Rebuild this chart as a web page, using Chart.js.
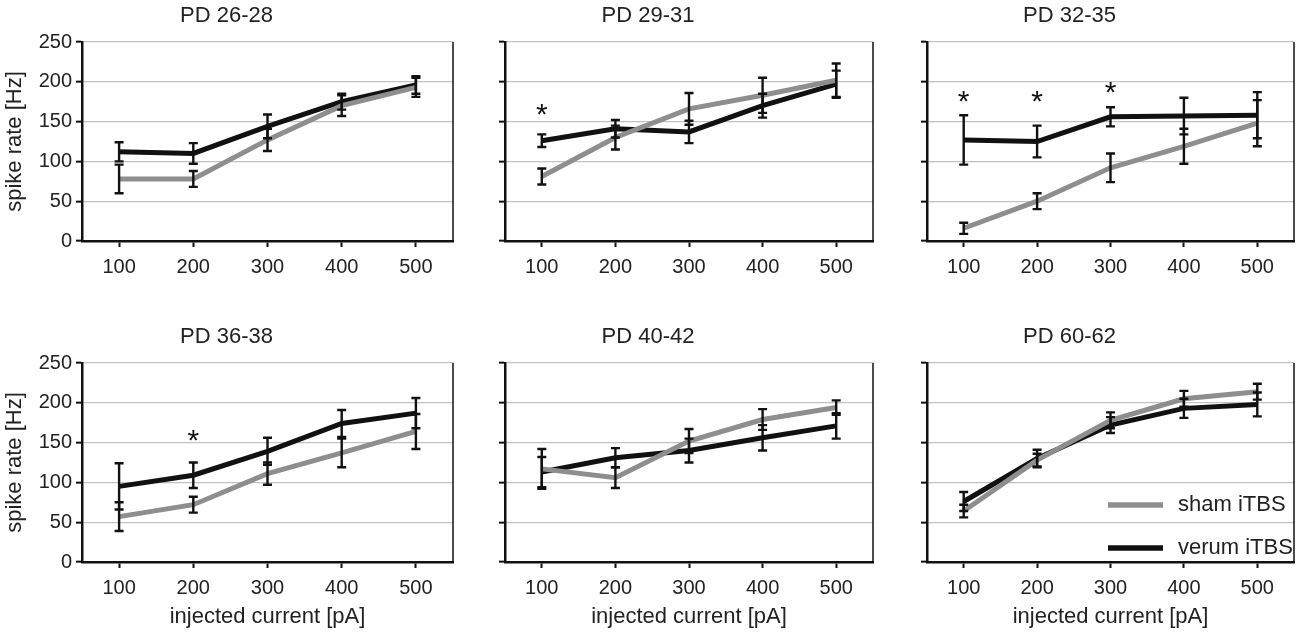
<!DOCTYPE html>
<html>
<head>
    <meta charset="utf-8">
    <title>Spike rate vs injected current</title>
    <script src="https://cdn.jsdelivr.net/npm/chart.js"></script>
    <style>
        body { margin: 0; background: #fff; }
        #wrap { position: relative; width: 1300px; height: 633px; background: #fff; }
        #wrap canvas { position: absolute; }
    </style>
</head>
<body>
    <div id="wrap"></div>
    <script>
        // injected current [pA]
        const currents = ['100', '200', '300', '400', '500'];
        const panelTitles = ['PD 26-28', 'PD 29-31', 'PD 32-35', 'PD 36-38', 'PD 40-42', 'PD 60-62'];
        const seriesNames = ['sham iTBS', 'verum iTBS'];

        // mean spike rate [Hz] per panel
        const shamMeans = [
            [78, 78, 127, 170, 193],
            [81, 130, 166, 183, 202],
            [16, 50, 92, 119, 148],
            [57, 72, 111, 137, 164],
            [117, 106, 152, 179, 194],
            [64, 128, 178, 205, 214]
        ];
        const shamErrors = [
            [18, 10, 14, 13, 12],
            [10, 15, 20, 22, 21],
            [7, 10, 18, 22, 29],
            [18, 10, 14, 18, 22],
            [25, 13, 15, 13, 9],
            [8, 8, 10, 10, 10]
        ];
        const verumMeans = [
            [112, 110, 144, 175, 196],
            [126, 141, 137, 170, 197],
            [127, 125, 156, 157, 158],
            [95, 109, 139, 174, 187],
            [113, 131, 140, 156, 171],
            [76, 130, 172, 193, 198]
        ];
        const verumErrors = [
            [12, 13, 15, 10, 11],
            [8, 11, 14, 15, 17],
            [31, 20, 12, 23, 29],
            [29, 16, 17, 17, 19],
            [19, 12, 15, 16, 16],
            [12, 11, 10, 12, 15]
        ];
        // significance marks: [category index, y value]
        const stars = [
            [],
            [[0, 164]],
            [[0, 180], [1, 180], [2, 191]],
            [[1, 157]],
            [],
            []
        ];

        Chart.defaults.font.family = '"Liberation Sans", Arial, sans-serif';
        Chart.defaults.color = '#222';

        const cols = [{ left: 0, width: 459 }, { left: 423, width: 456 }, { left: 845, width: 455 }];
        const rows = [{ top: 0, height: 300 }, { top: 321, height: 312 }];

        // error bars, stars, right frame, legend
        const extras = {
            id: 'extras',
            afterDatasetsDraw(chart, args, opts) {
                const ctx = chart.ctx;
                const y = chart.scales.y;
                const area = chart.chartArea;
                ctx.save();
                ctx.strokeStyle = '#111';
                ctx.lineWidth = 2.4;
                chart.data.datasets.forEach((ds, di) => {
                    const meta = chart.getDatasetMeta(di);
                    ds.data.forEach((v, i) => {
                        const x = meta.data[i].x;
                        const top = y.getPixelForValue(v + ds.errors[i]);
                        const bot = y.getPixelForValue(v - ds.errors[i]);
                        ctx.beginPath();
                        ctx.moveTo(x, top); ctx.lineTo(x, bot);
                        ctx.moveTo(x - 4.5, top); ctx.lineTo(x + 4.5, top);
                        ctx.moveTo(x - 4.5, bot); ctx.lineTo(x + 4.5, bot);
                        ctx.stroke();
                    });
                });
                // right frame line
                ctx.lineWidth = 1.5;
                ctx.beginPath();
                ctx.moveTo(area.right, area.top);
                ctx.lineTo(area.right, area.bottom);
                ctx.stroke();

                ctx.fillStyle = '#111';
                ctx.font = '30px "Liberation Sans", Arial, sans-serif';
                ctx.textAlign = 'center';
                ctx.textBaseline = 'middle';
                opts.stars.forEach(s => {
                    const sx = chart.scales.x.getPixelForValue(s[0]);
                    const sy = y.getPixelForValue(s[1]);
                    ctx.fillText('*', sx, sy + 5);
                });

                if (opts.legend) {
                    ctx.font = '22px "Liberation Sans", Arial, sans-serif';
                    ctx.textAlign = 'left';
                    [0, 1].forEach(k => {
                        const ds = chart.data.datasets[k];
                        const ly = area.bottom - (k === 0 ? 57 : 14);
                        ctx.strokeStyle = ds.borderColor;
                        ctx.lineWidth = 5.5;
                        ctx.beginPath();
                        ctx.moveTo(area.right - 186, ly);
                        ctx.lineTo(area.right - 131, ly);
                        ctx.stroke();
                        ctx.fillStyle = '#222';
                        ctx.fillText(ds.label, area.right - 116, ly);
                    });
                }
                ctx.restore();
            }
        };

        const wrap = document.getElementById('wrap');
        panelTitles.forEach((title, p) => {
            const r = Math.floor(p / 3), c = p % 3;
            const cv = document.createElement('canvas');
            cv.width = cols[c].width;
            cv.height = rows[r].height;
            cv.style.left = cols[c].left + 'px';
            cv.style.top = rows[r].top + 'px';
            wrap.appendChild(cv);

            new Chart(cv, {
                type: 'line',
                data: {
                    labels: currents,
                    datasets: [
                        {
                            label: seriesNames[0],
                            data: shamMeans[p],
                            errors: shamErrors[p],
                            borderColor: '#8e8e8e',
                            borderWidth: 5,
                            pointRadius: 0,
                            tension: 0,
                            order: 0
                        },
                        {
                            label: seriesNames[1],
                            data: verumMeans[p],
                            errors: verumErrors[p],
                            borderColor: '#111111',
                            borderWidth: 5,
                            pointRadius: 0,
                            tension: 0,
                            order: 1
                        }
                    ]
                },
                options: {
                    responsive: false,
                    animation: false,
                    layout: { padding: { right: 6, left: 0, top: 0, bottom: 0 } },
                    scales: {
                        x: {
                            offset: true,
                            grid: {
                                drawOnChartArea: false,
                                drawTicks: true,
                                tickLength: 6,
                                tickColor: '#111',
                                tickWidth: 2
                            },
                            border: { color: '#111', width: 2.5 },
                            ticks: { font: { size: 20 }, padding: 8, color: '#222' },
                            title: {
                                display: r === 1,
                                text: 'injected current [pA]',
                                font: { size: 22 },
                                padding: { top: 0, bottom: 3 },
                                color: '#222'
                            },
                            afterFit: s => { s.height = r === 0 ? 59 : 71; }
                        },
                        y: {
                            min: 0,
                            max: 250,
                            grid: {
                                color: '#c2c2c2',
                                lineWidth: 1.3,
                                tickLength: 6,
                                tickColor: '#111',
                                tickWidth: 2
                            },
                            border: { color: '#111', width: 2.5 },
                            ticks: {
                                stepSize: 50,
                                display: c === 0,
                                font: { size: 20 },
                                padding: 4,
                                color: '#222'
                            },
                            title: {
                                display: c === 0,
                                text: 'spike rate [Hz]',
                                font: { size: 22 },
                                padding: { top: 2, bottom: 0 },
                                color: '#222'
                            },
                            afterFit: s => { s.width = 82; }
                        }
                    },
                    plugins: {
                        legend: { display: false },
                        tooltip: { enabled: false },
                        title: {
                            display: true,
                            text: title,
                            font: { size: 22, weight: 'normal' },
                            color: '#222',
                            padding: { top: 2.5, bottom: 13.1 }
                        },
                        extras: { stars: stars[p], legend: p === 5 }
                    }
                },
                plugins: [extras]
            });
        });
    </script>
</body>
</html>
